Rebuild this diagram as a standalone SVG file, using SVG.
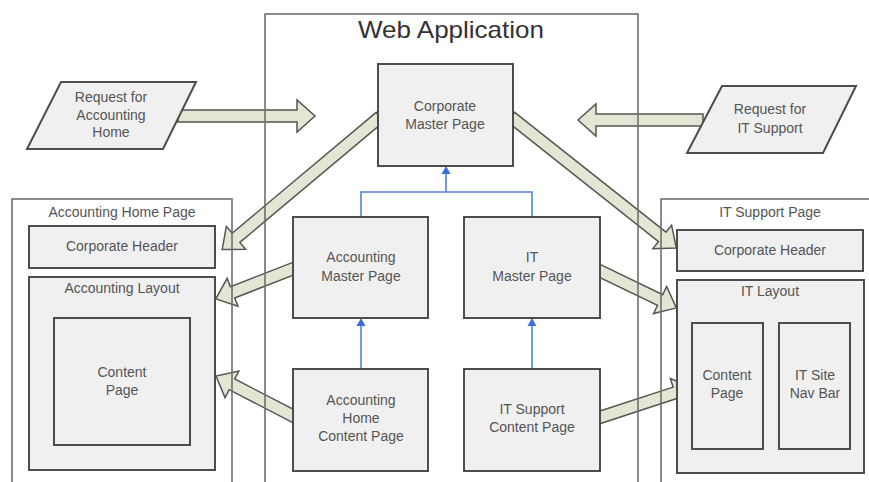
<svg xmlns="http://www.w3.org/2000/svg" width="869" height="482" viewBox="0 0 869 482">
<style>
.cont{fill:none;stroke:#6e6e6e;stroke-width:1.6}
.box{fill:#f0f0f0;stroke:#4d4d4d;stroke-width:2}
.fat{fill:#e5e5d3;stroke:#555555;stroke-width:1.5;stroke-linejoin:miter}
.blue{fill:none;stroke:#4f82dc;stroke-width:1.6}
.bhead{fill:#3b6fd6}
text{font-family:"Liberation Sans",Arial,sans-serif;font-size:14px;fill:#555555;text-anchor:middle}
.title{font-size:24px;fill:#333333}
</style>
<rect x="0" y="0" width="869" height="482" fill="#ffffff"/>
<g id="connectors">
<path class="fat" transform="translate(178,116)" d="M0,-6 H119 V-16 L137,0 L119,16 V6 H0 Z"/>
<path class="fat" transform="translate(703,120) rotate(180)" d="M0,-6 H107 V-16 L125,0 L107,16 V6 H0 Z"/>
<path class="fat" transform="translate(380,117) rotate(140)" d="M0,-6 H188 V-15 L206,0 L188,15 V6 H0 Z"/>
<path class="fat" transform="translate(295,268) rotate(158.7)" d="M0,-6 H67 V-15 L85,0 L67,15 V6 H0 Z"/>
<path class="fat" transform="translate(295,417) rotate(-152.6)" d="M0,-6 H71 V-15 L89,0 L71,15 V6 H0 Z"/>
<path class="fat" transform="translate(511,117) rotate(38.4)" d="M0,-6 H193 V-15 L211,0 L193,15 V6 H0 Z"/>
<path class="fat" transform="translate(598,270) rotate(25.8)" d="M0,-6 H69 V-15 L87,0 L69,15 V6 H0 Z"/>
<path class="fat" transform="translate(598,418) rotate(-18.1)" d="M0,-6 H81 V-15 L99,0 L81,15 V6 H0 Z"/>
<path class="blue" d="M361,217 V192 H532 V217 M446,192 V172"/>
<path class="bhead" d="M446,166 L450.5,174 L441.5,174 Z"/>
<path class="blue" d="M361,369 V324"/>
<path class="bhead" d="M361,318 L365.5,326 L356.5,326 Z"/>
<path class="blue" d="M532,369 V324"/>
<path class="bhead" d="M532,318 L536.5,326 L527.5,326 Z"/>
</g>
<g id="containers">
<g id="web-application"><rect class="cont" x="265" y="14" width="373" height="480"/><text class="title" x="451" y="38" textLength="186" lengthAdjust="spacingAndGlyphs">Web Application</text></g>
<g id="accounting-home-page"><rect class="cont" x="12" y="199" width="220" height="295"/><text x="122" y="217">Accounting Home Page</text></g>
<g id="it-support-page"><rect class="cont" x="661" y="199" width="220" height="295"/><text x="770" y="217">IT Support Page</text></g>
</g>
<g id="request-accounting"><path class="box" d="M61,82 H196 L163,149 H27 Z"/><text x="111" y="102">Request for</text><text x="111" y="120">Accounting</text><text x="111" y="137">Home</text></g>
<g id="request-it"><path class="box" d="M722,86 H856 L823,153 H687 Z"/><text x="770" y="114">Request for</text><text x="770" y="133">IT Support</text></g>
<g id="corporate-master"><rect class="box" x="378" y="64" width="135" height="102"/><text x="445" y="111">Corporate</text><text x="445" y="129">Master Page</text></g>
<g id="accounting-master"><rect class="box" x="293" y="217" width="135" height="101"/><text x="361" y="262">Accounting</text><text x="361" y="281">Master Page</text></g>
<g id="it-master"><rect class="box" x="464" y="217" width="136" height="101"/><text x="532" y="262">IT</text><text x="532" y="281">Master Page</text></g>
<g id="accounting-home-content"><rect class="box" x="293" y="369" width="135" height="102"/><text x="361" y="405">Accounting</text><text x="361" y="423">Home</text><text x="361" y="441">Content Page</text></g>
<g id="it-support-content"><rect class="box" x="464" y="369" width="136" height="102"/><text x="532" y="414">IT Support</text><text x="532" y="432">Content Page</text></g>
<g id="acc-corporate-header"><rect class="box" x="29" y="226" width="186" height="42"/><text x="122" y="251">Corporate Header</text></g>
<g id="accounting-layout"><rect class="box" x="29" y="277" width="186" height="193"/><text x="122" y="293">Accounting Layout</text></g>
<g id="acc-content-page"><rect class="box" x="54" y="318" width="136" height="127"/><text x="122" y="377">Content</text><text x="122" y="395">Page</text></g>
<g id="it-corporate-header"><rect class="box" x="677" y="230" width="186" height="41"/><text x="770" y="255">Corporate Header</text></g>
<g id="it-layout"><rect class="box" x="677" y="280" width="187" height="193"/><text x="770" y="296">IT Layout</text></g>
<g id="it-content-page"><rect class="box" x="692" y="323" width="71" height="126"/><text x="727" y="380">Content</text><text x="727" y="398">Page</text></g>
<g id="it-site-nav-bar"><rect class="box" x="779" y="323" width="71" height="126"/><text x="815" y="380">IT Site</text><text x="815" y="398">Nav Bar</text></g>
</svg>
